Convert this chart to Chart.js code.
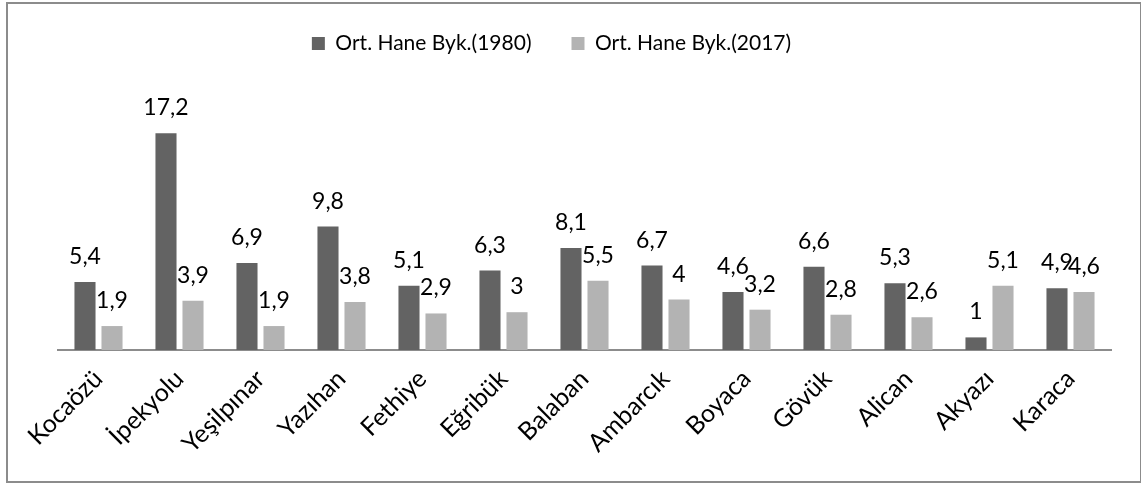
<!DOCTYPE html>
<html>
<head>
<meta charset="utf-8">
<script src="https://cdn.jsdelivr.net/npm/chart.js@4/dist/chart.umd.min.js"></script>
<style>
  html, body { margin: 0; padding: 0; background: #fff; }
  #frame {
    position: absolute; left: 6px; top: 2px; width: 1132px; height: 477px;
    border: 2px solid #8c8c8c; box-sizing: content-box;
  }
  canvas { position: absolute; left: 0; top: 0; }
</style>
</head>
<body>
<div id="frame"></div>
<canvas id="chart" width="1141" height="483"></canvas>
<script>
const villages = ['Kocaözü', 'İpekyolu', 'Yeşilpınar', 'Yazıhan', 'Fethiye', 'Eğribük',
  'Balaban', 'Ambarcık', 'Boyaca', 'Gövük', 'Alican', 'Akyazı', 'Karaca'];
const hane1980 = [5.4, 17.2, 6.9, 9.8, 5.1, 6.3, 8.1, 6.7, 4.6, 6.6, 5.3, 1, 4.9];
const hane2017 = [1.9, 3.9, 1.9, 3.8, 2.9, 3, 5.5, 4, 3.2, 2.8, 2.6, 5.1, 4.6];

const FONT = 'Lato, "Open Sans", sans-serif';

// sayı etiketleri, virgüllü (tr)
const valueLabels = {
  id: 'valueLabels',
  afterDatasetsDraw(chart) {
    const ctx = chart.ctx;
    ctx.save();
    ctx.font = '23px ' + FONT;
    ctx.fillStyle = '#000';
    ctx.textAlign = 'center';
    ctx.textBaseline = 'alphabetic';
    chart.data.datasets.forEach((ds, i) => {
      chart.getDatasetMeta(i).data.forEach((bar, j) => {
        ctx.fillText(String(ds.data[j]).replace('.', ','), bar.x, bar.y - 18);
      });
    });
    ctx.restore();
  }
};

// legend yüksekliği sabit, biraz sola/yukarı kaydır
const legendTweak = {
  id: 'legendTweak',
  beforeInit(chart) {
    const fit = chart.legend.fit;
    chart.legend.fit = function () {
      fit.call(this);
      this.height = 97;
    };
  },
  afterLayout(chart) {
    chart.legend.left -= 33;
    chart.legend.right -= 33;
    chart.legend.top -= 8;
  }
};

new Chart(document.getElementById('chart'), {
  type: 'bar',
  data: {
    labels: villages,
    datasets: [
      { label: 'Ort. Hane Byk.(1980)', data: hane1980, backgroundColor: '#636363', borderWidth: 0 },
      { label: 'Ort. Hane Byk.(2017)', data: hane2017, backgroundColor: '#b3b3b3', borderWidth: 0 },
    ],
  },
  options: {
    responsive: false,
    animation: false,
    categoryPercentage: 0.667,
    barPercentage: 0.78,
    layout: { padding: { left: 58, right: 30, top: 1, bottom: 0 } },
    plugins: {
      legend: {
        position: 'top',
        labels: {
          boxWidth: 13,
          boxHeight: 13,
          padding: 40,
          color: '#000',
          font: { family: FONT, size: 21 },
        },
      },
      tooltip: { enabled: false },
    },
    scales: {
      x: {
        grid: { display: false, drawTicks: false },
        border: { display: true, color: '#8c8c8c', width: 2 },
        ticks: {
          color: '#000',
          font: { family: FONT, size: 25 },
          minRotation: 45,
          maxRotation: 45,
          padding: 14,
        },
        afterFit(scale) { scale.height = 133; },
      },
      y: {
        display: false,
        min: 0,
        max: 20,
      },
    },
  },
  plugins: [valueLabels, legendTweak],
});
</script>
</body>
</html>
